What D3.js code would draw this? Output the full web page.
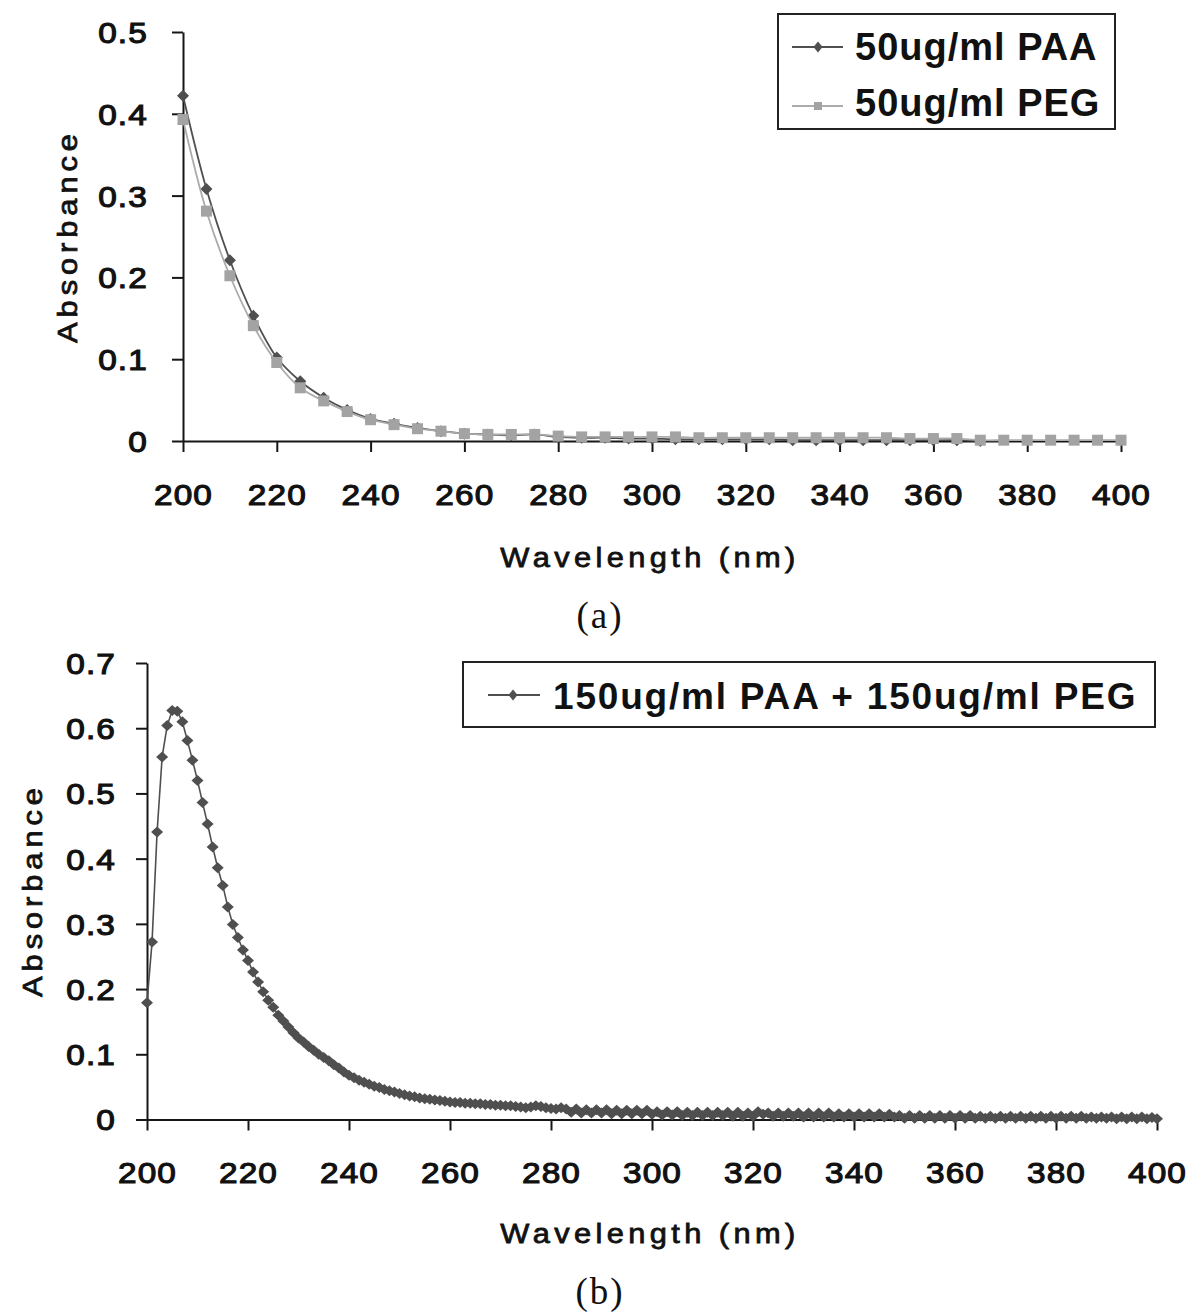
<!DOCTYPE html>
<html>
<head>
<meta charset="utf-8">
<script src="https://cdn.jsdelivr.net/npm/d3@7/dist/d3.min.js"></script>
<style>
  html, body { margin: 0; padding: 0; background: #fff; }
  svg { display: block; }
</style>
</head>
<body>
<script>
// ---------------- DATA ----------------
// Panel (a): 5 nm steps
const wlA = [200,205,210,215,220,225,230,235,240,245,250,255,260,265,270,275,280,285,290,295,300,
             305,310,315,320,325,330,335,340,345,350,355,360,365,370,375,380,385,390,395,400];
const paa50 = [0.422,0.308,0.221,0.153,0.102,0.073,0.053,0.038,0.027,0.021,0.016,0.012,0.009,0.008,0.007,0.008,
               0.005,0.004,0.004,0.003,0.003,0.002,0.002,0.002,0.002,0.002,0.001,0.001,0.001,0.001,0.001,0.001,
               0.001,0.001,0.000];
const peg50 = [0.393,0.281,0.202,0.141,0.096,0.065,0.049,0.036,0.026,0.020,0.015,0.012,0.009,0.008,0.008,0.008,
               0.006,0.005,0.005,0.005,0.005,0.005,0.004,0.004,0.004,0.004,0.004,0.004,0.004,0.004,0.004,0.003,
               0.003,0.003,0.001,0.001,0.001,0.001,0.001,0.001,0.001];
// Panel (b): 1 nm steps, 200..400
const wlB = d3.range(200, 401, 1);
const mix150 = [
  0.179,0.272,0.441,0.556,0.604,0.627,0.626,0.610,0.581,0.551,0.520,0.486,0.453,0.418,0.386,0.359,0.326,0.299,0.279,0.260,0.244,
  0.226,0.211,0.196,0.183,0.172,0.160,0.151,0.142,0.133,0.125,0.119,0.112,0.106,0.100,0.095,0.090,0.084,0.079,0.073,0.068,
  0.064,0.060,0.057,0.054,0.051,0.049,0.046,0.044,0.042,0.040,0.038,0.036,0.035,0.033,0.032,0.031,0.030,0.029,0.028,0.027,
  0.026,0.026,0.025,0.025,0.024,0.024,0.023,0.023,0.022,0.022,0.021,0.021,0.020,0.019,0.018,0.019,0.021,0.020,0.018,0.017,
  0.016,0.018,0.016,0.011,0.016,0.010,0.015,0.010,0.015,0.010,0.015,0.009,0.014,0.009,0.014,0.009,0.014,0.009,0.014,0.008,
  0.012,0.007,0.012,0.007,0.012,0.006,0.011,0.006,0.011,0.006,0.011,0.006,0.011,0.006,0.011,0.005,0.011,0.005,0.010,0.005,
  0.012,0.008,0.010,0.005,0.010,0.005,0.010,0.005,0.010,0.004,0.010,0.004,0.010,0.004,0.010,0.004,0.009,0.004,0.009,0.004,
  0.009,0.004,0.009,0.004,0.009,0.004,0.008,0.004,0.006,0.002,0.006,0.002,0.006,0.002,0.006,0.002,0.006,0.002,0.006,0.002,
  0.006,0.002,0.006,0.002,0.005,0.002,0.005,0.002,0.005,0.002,0.005,0.002,0.005,0.002,0.005,0.002,0.005,0.002,0.005,0.002,
  0.005,0.002,0.005,0.002,0.005,0.002,0.004,0.002,0.004,0.002,0.004,0.001,0.004,0.001,0.004,0.001,0.004,0.001,0.003,0.001
];
const xTicks = [200,220,240,260,280,300,320,340,360,380,400];
const yTicksA = [0,0.1,0.2,0.3,0.4,0.5];
const yTicksB = [0,0.1,0.2,0.3,0.4,0.5,0.6,0.7];
const legendA = ["50ug/ml PAA", "50ug/ml PEG"];
const legendB = ["150ug/ml PAA + 150ug/ml PEG"];
const xTitle = "Wavelength (nm)";
const yTitle = "Absorbance";
const captions = ["(a)", "(b)"];

// ---------------- DRAW ----------------
const W = 1191, H = 1316;
const svg = d3.select("body").append("svg").attr("width", W).attr("height", H);
const SANS = "'Liberation Sans', Arial, Helvetica, sans-serif";
const SERIF = "'Liberation Serif', 'Times New Roman', serif";
const AX = "#161616";
const DARK = "#4f4f4f", LIGHT = "#a3a3a3", LIGHTLINE = "#ababab";

const diamond = (w, h) => `M0,${-h}L${w},0L0,${h}L${-w},0Z`;
const square = (s) => `M${-s},${-s}H${s}V${s}H${-s}Z`;

function thicken(sel, w) {
  sel.attr("stroke", "#111").attr("stroke-width", w).attr("paint-order", "stroke");
}

function panel(cfg) {
  const x = d3.scaleLinear().domain([200, 400]).range([cfg.left, cfg.right]);
  const y = d3.scaleLinear().domain([0, cfg.ymax]).range([cfg.bottom, cfg.top]);
  const g = svg.append("g");

  // x axis
  const xa = g.append("g").attr("transform", `translate(0,${cfg.bottom})`)
    .call(d3.axisBottom(x).tickValues(xTicks).tickSize(11).tickSizeOuter(0).tickFormat(d3.format("d")));
  // y axis
  const ya = g.append("g").attr("transform", `translate(${cfg.left},0)`)
    .call(d3.axisLeft(y).tickValues(cfg.yTicks).tickSize(11).tickSizeOuter(0)
      .tickFormat(d => d === 0 ? "0" : d.toFixed(1)));
  [xa, ya].forEach(a => {
    a.select(".domain").attr("stroke", AX).attr("stroke-width", 2);
    a.selectAll(".tick line").attr("stroke", AX).attr("stroke-width", 2);
    const t = a.selectAll(".tick text").attr("fill", "#111").attr("font-family", SANS)
      .attr("font-size", 29).attr("letter-spacing", 1);
    thicken(t, 1.1);
  });
  const sx = 1.15;
  xa.selectAll(".tick text").attr("dy", null).attr("y", cfg.xLabelBase - cfg.bottom)
    .attr("transform", `scale(${sx},1)`);
  ya.selectAll(".tick text").attr("dy", "0.36em").attr("x", -cfg.yLabelGap / sx)
    .attr("transform", `scale(${sx},1)`);

  // axis titles
  thicken(g.append("text").attr("transform", `translate(650,${cfg.xTitleBase}) scale(1.1,1)`)
    .attr("text-anchor", "middle").attr("font-family", SANS).attr("font-size", 28)
    .attr("letter-spacing", 4).attr("fill", "#111").text(xTitle), 0.8);
  thicken(g.append("text").attr("transform", `translate(${cfg.yTitleX},${cfg.yTitleY}) rotate(-90) scale(1.1,1)`)
    .attr("text-anchor", "middle").attr("font-family", SANS).attr("font-size", 28)
    .attr("letter-spacing", 4.5).attr("fill", "#111").text(yTitle), 0.8);
  // caption
  g.append("text").attr("x", 600).attr("y", cfg.capBase).attr("text-anchor", "middle")
    .attr("font-family", SERIF).attr("font-size", 37).attr("letter-spacing", 2)
    .attr("fill", "#111").text(cfg.caption);

  return { g, x, y };
}

// ---- Panel (a)
const A = panel({ left: 183, right: 1121, top: 32, bottom: 441, ymax: 0.5, yTicks: yTicksA,
  xLabelBase: 505, yLabelGap: 35, xTitleBase: 567, yTitleX: 77, yTitleY: 236, capBase: 628, caption: captions[0] });

const lineA = d3.line().x(d => A.x(d[0])).y(d => A.y(d[1])).curve(d3.curveCatmullRom.alpha(0.5));
const paaPts = paa50.map((v, i) => [wlA[i], v]);
const pegPts = peg50.map((v, i) => [wlA[i], v]);

A.g.append("path").datum(paaPts).attr("d", lineA).attr("fill", "none").attr("stroke", DARK).attr("stroke-width", 1.8);
A.g.append("g").selectAll("path").data(paaPts).join("path")
  .attr("transform", d => `translate(${A.x(d[0])},${A.y(d[1])})`).attr("d", diamond(6, 6)).attr("fill", DARK);
A.g.append("path").datum(pegPts).attr("d", lineA).attr("fill", "none").attr("stroke", LIGHTLINE).attr("stroke-width", 1.8);
A.g.append("g").selectAll("path").data(pegPts).join("path")
  .attr("transform", d => `translate(${A.x(d[0])},${A.y(d[1])})`).attr("d", square(5.5)).attr("fill", LIGHT);

// legend (a)
const lgA = svg.append("g");
lgA.append("rect").attr("x", 778).attr("y", 14).attr("width", 337).attr("height", 115)
  .attr("fill", "#fff").attr("stroke", "#222").attr("stroke-width", 2);
const legRowsA = [{ y: 47, base: 60, color: DARK, shape: diamond(4.5, 5.5) }, { y: 106, base: 116, color: LIGHT, shape: square(4) }];
legendA.forEach((t, i) => {
  const r = legRowsA[i];
  lgA.append("line").attr("x1", 792).attr("x2", 843).attr("y1", r.y).attr("y2", r.y)
    .attr("stroke", i === 0 ? DARK : LIGHTLINE).attr("stroke-width", 2);
  lgA.append("path").attr("transform", `translate(818,${r.y})`).attr("d", r.shape).attr("fill", r.color);
  lgA.append("text").attr("x", 855).attr("y", r.base).attr("font-family", SANS).attr("font-weight", "bold")
    .attr("font-size", 38).attr("letter-spacing", 1).attr("fill", "#111").text(t);
});

// ---- Panel (b)
const B = panel({ left: 147, right: 1157, top: 663, bottom: 1119.5, ymax: 0.7, yTicks: yTicksB,
  xLabelBase: 1183, yLabelGap: 31, xTitleBase: 1243, yTitleX: 42, yTitleY: 890, capBase: 1304, caption: captions[1] });

const mixPts = mix150.map((v, i) => [wlB[i], v]);
const lineB = d3.line().x(d => B.x(d[0])).y(d => B.y(d[1]));
B.g.append("path").datum(mixPts).attr("d", lineB).attr("fill", "none").attr("stroke", DARK).attr("stroke-width", 1.6);
B.g.append("g").selectAll("path").data(mixPts).join("path")
  .attr("transform", d => `translate(${B.x(d[0])},${B.y(d[1])})`).attr("d", diamond(6, 5.5)).attr("fill", DARK);

// legend (b)
const lgB = svg.append("g");
lgB.append("rect").attr("x", 463).attr("y", 662).attr("width", 692).attr("height", 65)
  .attr("fill", "#fff").attr("stroke", "#222").attr("stroke-width", 2);
lgB.append("line").attr("x1", 488).attr("x2", 540).attr("y1", 695).attr("y2", 695)
  .attr("stroke", DARK).attr("stroke-width", 2);
lgB.append("path").attr("transform", "translate(513,695)").attr("d", diamond(4.5, 5.5)).attr("fill", DARK);
lgB.append("text").attr("x", 553).attr("y", 709).attr("font-family", SANS).attr("font-weight", "bold")
  .attr("font-size", 37).attr("letter-spacing", 1.8).attr("fill", "#111").text(legendB[0]);
</script>
</body>
</html>
